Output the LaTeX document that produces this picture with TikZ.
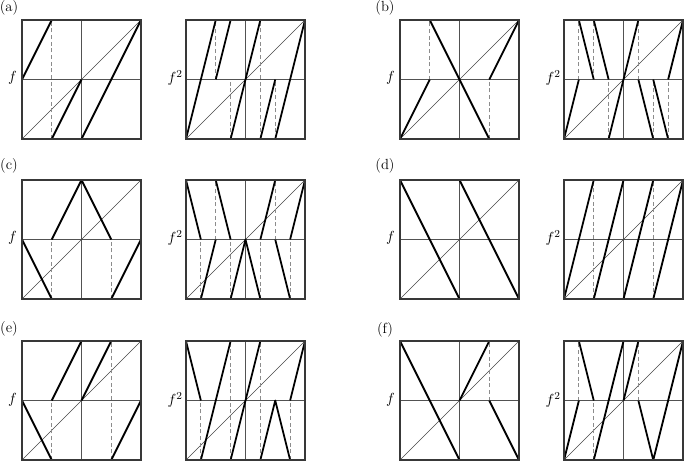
\documentclass[tikz,border=0pt]{standalone}
\usetikzlibrary{calc}
\tikzset{
  frameline/.style={draw=black!78,line width=0.85pt},
  gridline/.style={draw=black!68,line width=0.8pt},
  diagline/.style={draw=black!72,line width=0.45pt},
  graphline/.style={draw=black,line width=1.35pt,line join=round},
  jumpline/.style={draw=black!45,line width=0.6pt,dash pattern=on 3pt off 2pt},
  panellabel/.style={inner sep=0pt,font=\fontsize{11}{13}\selectfont},
  maplabel/.style={inner sep=0pt,anchor=east,font=\fontsize{11}{13}\selectfont}
}
\newcommand\unitsq[3]{%
  \begin{scope}[shift={(#1,#2)},x=89.25pt,y=89.25pt]
    \draw[gridline] (0.5,0)--(0.5,1) (0,0.5)--(1,0.5);
    \draw[diagline] (0,0)--(1,1);
    #3
    \draw[frameline] (0,0) rectangle (1,1);
  \end{scope}}
\begin{document}
\begin{tikzpicture}[x=0.75pt,y=-0.75pt]
\useasboundingbox (0,0) rectangle (685,461);
% ---------- (a)
\node[panellabel] (la) at (9,8) {(a)};
\node[maplabel] (fa) at (17,78) {$f$};
\node[maplabel] (fa2) at (183,78) {$f^2$};
\unitsq{22}{139}{
  \draw[jumpline] (.25,0)--(.25,1);
  \draw[graphline] (0,.5)--(.25,1) (.25,0)--(.5,.5) (.5,0)--(1,1);
}
\unitsq{186}{139}{
  \draw[jumpline] (.25,.5)--(.25,1) (.375,0)--(.375,.5) (.625,0)--(.625,1) (.75,0)--(.75,.5);
  \draw[graphline] (0,0)--(.25,1) (.25,.5)--(.375,1) (.375,0)--(.625,1) (.625,0)--(.75,.5) (.75,0)--(1,1);
}
% ---------- (b)
\node[panellabel] (lb) at (385,8) {(b)};
\node[maplabel] (fb) at (395,78) {$f$};
\node[maplabel] (fb2) at (561,78) {$f^2$};
\unitsq{400}{139}{
  \draw[jumpline] (.25,.5)--(.25,1) (.75,0)--(.75,.5);
  \draw[graphline] (0,0)--(.25,.5) (.25,1)--(.75,0) (.75,.5)--(1,1);
}
\unitsq{564}{139}{
  \draw[jumpline] (.125,.5)--(.125,1) (.25,.5)--(.25,1) (.375,0)--(.375,.5)
     (.625,.5)--(.625,1) (.75,0)--(.75,.5) (.875,0)--(.875,.5);
  \draw[graphline] (0,0)--(.125,.5) (.125,1)--(.25,.5) (.25,1)--(.375,.5) (.375,0)--(.625,1)
     (.625,.5)--(.75,0) (.75,.5)--(.875,0) (.875,.5)--(1,1);
}
% ---------- (c)
\node[panellabel] (lc) at (9,166) {(c)};
\node[maplabel] (fc) at (17,238) {$f$};
\node[maplabel] (fc2) at (183,238) {$f^2$};
\unitsq{22}{299}{
  \draw[jumpline] (.25,0)--(.25,.5) (.75,0)--(.75,.5);
  \draw[graphline] (0,.5)--(.25,0) (.25,.5)--(.5,1)--(.75,.5) (.75,0)--(1,.5);
}
\unitsq{186}{299}{
  \draw[jumpline] (.125,0)--(.125,.5) (.25,.5)--(.25,1) (.375,0)--(.375,.5)
     (.625,0)--(.625,.5) (.75,.5)--(.75,1) (.875,0)--(.875,.5);
  \draw[graphline] (0,1)--(.125,.5) (.125,0)--(.25,.5) (.25,1)--(.375,.5) (.375,0)--(.5,.5)--(.625,0)
     (.625,.5)--(.75,1) (.75,.5)--(.875,0) (.875,.5)--(1,1);
}
% ---------- (d)
\node[panellabel] (ld) at (385,166) {(d)};
\node[maplabel] (fd) at (395,238) {$f$};
\node[maplabel] (fd2) at (561,238) {$f^2$};
\unitsq{400}{299}{
  \draw[graphline] (0,1)--(.5,0) (.5,1)--(1,0);
}
\unitsq{564}{299}{
  \draw[jumpline] (.25,0)--(.25,1) (.75,0)--(.75,1);
  \draw[graphline] (0,0)--(.25,1) (.25,0)--(.5,1) (.5,0)--(.75,1) (.75,0)--(1,1);
}
% ---------- (e)
\node[panellabel] (le) at (9,329) {(e)};
\node[maplabel] (fe) at (17,400) {$f$};
\node[maplabel] (fe2) at (183,400) {$f^2$};
\unitsq{22}{460}{
  \draw[jumpline] (.25,0)--(.25,.5) (.75,0)--(.75,1);
  \draw[graphline] (0,.5)--(.25,0) (.25,.5)--(.5,1) (.5,.5)--(.75,1) (.75,0)--(1,.5);
}
\unitsq{186}{460}{
  \draw[jumpline] (.125,0)--(.125,.5) (.375,0)--(.375,1) (.625,0)--(.625,1) (.875,0)--(.875,.5);
  \draw[graphline] (0,1)--(.125,.5) (.125,0)--(.375,1) (.375,0)--(.625,1)
     (.625,0)--(.75,.5)--(.875,0) (.875,.5)--(1,1);
}
% ---------- (f)
\node[panellabel] (lf) at (385,330) {(f)};
\node[maplabel] (ff) at (395,400) {$f$};
\node[maplabel] (ff2) at (561,400) {$f^2$};
\unitsq{400}{460}{
  \draw[jumpline] (.75,.5)--(.75,1);
  \draw[graphline] (0,1)--(.5,0) (.5,.5)--(.75,1) (.75,.5)--(1,0);
}
\unitsq{564}{460}{
  \draw[jumpline] (.125,.5)--(.125,1) (.25,0)--(.25,.5) (.625,.5)--(.625,1);
  \draw[graphline] (0,0)--(.125,.5) (.125,1)--(.25,.5) (.25,0)--(.5,1)
     (.5,.5)--(.625,1) (.625,.5)--(.75,0)--(1,1);
}
\end{tikzpicture}
\end{document}
